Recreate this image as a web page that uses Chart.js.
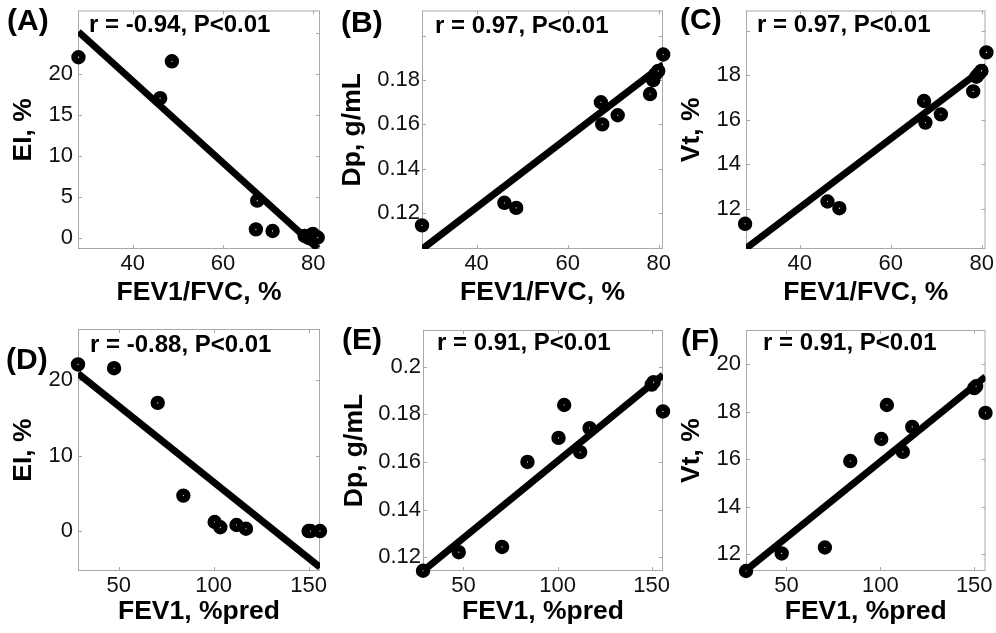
<!DOCTYPE html>
<html>
<head>
<meta charset="utf-8">
<script src="https://cdn.jsdelivr.net/npm/chart.js@4.4.0/dist/chart.umd.min.js"></script>
<style>
  html, body { margin: 0; padding: 0; background: #fff; }
  body { width: 996px; height: 633px; position: relative; overflow: hidden; }
  canvas { position: absolute; }
</style>
</head>
<body>
<canvas id="pA"></canvas>
<canvas id="pB"></canvas>
<canvas id="pC"></canvas>
<canvas id="pD"></canvas>
<canvas id="pE"></canvas>
<canvas id="pF"></canvas>
<script>
// top row: against FEV1/FVC
const fev1fvc = [28.0, 46.1, 48.7, 67.3, 67.6, 71.0, 78.1, 78.8, 79.3, 79.9, 81.0];
const eiTop = [22.1, 17.1, 21.6, 1.1, 4.6, 0.9, 0.3, 0.1, 0.0, 0.55, 0.1];
const dpTop = [0.1143, 0.1245, 0.1222, 0.1700, 0.1600, 0.1641, 0.1737, 0.1800, 0.1827, 0.1842, 0.1916];
const vtTop = [11.33, 12.33, 12.03, 16.84, 15.87, 16.24, 17.27, 17.93, 18.05, 18.19, 19.02];

// bottom row: against FEV1 %pred
const fev1pred = [28.5, 47.5, 70.5, 84.0, 100.5, 103.5, 112.0, 117.0, 150.0, 151.0, 156.0];
const eiBot = [22.1, 21.6, 17.0, 4.7, 1.2, 0.5, 0.8, 0.3, 0.0, 0.0, 0.0];
const dpBot = [0.1143, 0.1221, 0.1243, 0.1600, 0.1701, 0.1839, 0.1641, 0.1742, 0.1925, 0.1935, 0.1812];
const vtBot = [11.3, 12.04, 12.29, 15.93, 16.86, 18.29, 16.32, 17.37, 19.0, 19.08, 17.96];

// regression lines (end points)
const fitXTop = [28, 81];
const fitXBot = [28.5, 156];
const fitA = [25.2, -1.25];
const fitB = [0.1035, 0.187];
const fitC = [10.2, 18.4];
const fitD = [20.9, -4.8];
const fitE = [0.1142, 0.1965];
const fitF = [11.33, 19.48];

// ticks
const xTicksTop = [40, 60, 80];
const xTicksBot = [50, 100, 150];
const yTicksA = [0, 5, 10, 15, 20, 25];
const yLabelsA = ['0', '5', '10', '15', '20', ''];
const yTicksB = [0.12, 0.14, 0.16, 0.18, 0.2];
const yLabelsB = ['0.12', '0.14', '0.16', '0.18', ''];
const yTicksC = [12, 14, 16, 18, 20];
const yLabelsC = ['12', '14', '16', '18', ''];
const yTicksD = [0, 10, 20];
const yLabelsD = ['0', '10', '20'];
const yTicksE = [0.12, 0.14, 0.16, 0.18, 0.2];
const yLabelsE = ['0.12', '0.14', '0.16', '0.18', '0.2'];
const yTicksF = [12, 14, 16, 18, 20];
const yLabelsF = ['12', '14', '16', '18', '20'];

const FONT = '"Liberation Sans", Arial, Helvetica, sans-serif';

// matlab style grey box with inward ticks, plus the stat text and panel letter
const boxPlugin = {
  id: 'matlabBox',
  beforeDatasetsDraw(chart, args, opts) {
    const { ctx, chartArea: a, scales: { x, y } } = chart;
    ctx.save();
    ctx.strokeStyle = '#a8a8a8';
    ctx.lineWidth = 1;
    ctx.strokeRect(a.left + 0.5, a.top + 0.5, a.width - 1, a.height - 1);
    ctx.beginPath();
    x.ticks.forEach(t => {
      const p = Math.round(x.getPixelForValue(t.value)) + 0.5;
      ctx.moveTo(p, a.bottom); ctx.lineTo(p, a.bottom - 4);
      ctx.moveTo(p, a.top); ctx.lineTo(p, a.top + 4);
    });
    y.ticks.forEach(t => {
      const p = Math.round(y.getPixelForValue(t.value)) + 0.5;
      ctx.moveTo(a.left, p); ctx.lineTo(a.left + 4, p);
      ctx.moveTo(a.right, p); ctx.lineTo(a.right - 4, p);
    });
    ctx.stroke();
    ctx.restore();
  },
  afterDatasetsDraw(chart, args, opts) {
    const { ctx, chartArea: a } = chart;
    ctx.save();
    ctx.fillStyle = '#000';
    ctx.textBaseline = 'middle';
    ctx.textAlign = 'left';
    ctx.font = 'bold 24px ' + FONT;
    ctx.fillText(opts.stat, a.left + opts.statDx, a.top + opts.statDy);
    ctx.font = 'bold 30px ' + FONT;
    ctx.fillText(opts.label, opts.labelX, opts.labelY);
    ctx.restore();
  }
};

function panel(id, c) {
  const el = document.getElementById(id);
  el.width = c.w; el.height = c.h;
  el.style.left = c.left + 'px'; el.style.top = c.top + 'px';
  el.style.width = c.w + 'px'; el.style.height = c.h + 'px';

  new Chart(el, {
    type: 'scatter',
    data: {
      datasets: [
        {
          data: c.xs.map((v, i) => ({ x: v, y: c.ys[i] })),
          pointRadius: 3.9,
          pointHoverRadius: 3.9,
          pointBorderWidth: 6.6,
          pointBackgroundColor: '#fff',
          pointBorderColor: '#000',
          clip: false
        },
        {
          data: c.fitX.map((v, i) => ({ x: v, y: c.fitY[i] })),
          showLine: true,
          borderColor: '#000',
          borderWidth: 7,
          pointRadius: 0,
          pointHoverRadius: 0
        }
      ]
    },
    options: {
      responsive: false,
      animation: false,
      events: [],
      layout: { padding: { left: 0, top: c.padTop, right: c.padRight, bottom: 0 } },
      plugins: {
        legend: { display: false },
        tooltip: { enabled: false },
        matlabBox: { stat: c.stat, statDx: c.statDx, statDy: c.statDy, label: c.label, labelX: c.labelX, labelY: c.labelY }
      },
      scales: {
        x: {
          type: 'linear',
          min: c.xMin, max: c.xMax,
          grid: { display: false, drawTicks: false },
          border: { display: false },
          afterBuildTicks: s => { s.ticks = c.xTicks.map(v => ({ value: v })); },
          afterFit: s => { s.height = c.xH; s.paddingLeft = 0; s.paddingRight = 0; },
          ticks: {
            padding: 2, color: '#111', maxRotation: 0, autoSkip: false,
            font: { family: FONT, size: 22 },
            callback: (v, i) => String(c.xTicks[i])
          },
          title: {
            display: true, text: c.xTitle, color: '#000',
            font: { family: FONT, size: 26.5, weight: 'bold' },
            padding: { top: 0, bottom: c.xTitlePad }
          }
        },
        y: {
          type: 'linear',
          min: c.yMin, max: c.yMax,
          grid: { display: false, drawTicks: false },
          border: { display: false },
          afterBuildTicks: s => { s.ticks = c.yTicks.map(v => ({ value: v })); },
          afterFit: s => { s.width = c.yW; s.paddingTop = 0; s.paddingBottom = 0; },
          ticks: {
            padding: c.yTickPad, color: '#111', autoSkip: false,
            font: { family: FONT, size: 22 },
            callback: (v, i) => c.yLabels[i]
          },
          title: {
            display: true, text: c.yTitle, color: '#000',
            font: { family: FONT, size: 26.5, weight: 'bold' },
            padding: { top: c.yTitlePad, bottom: 0 }
          }
        }
      }
    },
    plugins: [boxPlugin]
  });
}

const top1 = { top: 0, h: 316, padTop: 7, xH: 67, xTitlePad: 7, xTicks: xTicksTop, xTitle: 'FEV1/FVC, %', fitX: fitXTop, xs: fev1fvc };
const bot1 = { top: 316, h: 317, xH: 62, xTitlePad: 5, xTicks: xTicksBot, xTitle: 'FEV1, %pred', fitX: fitXBot, xs: fev1pred, xMin: 28.5, xMax: 156 };

panel('pA', Object.assign({}, top1, {
  left: 0, w: 345, padRight: 25, yW: 78, xMin: 27.9, xMax: 81.5,
  ys: eiTop, fitY: fitA, yMin: -1.3, yMax: 27.8, yTicks: yTicksA, yLabels: yLabelsA,
  yTitle: 'EI, %', yTitlePad: 8, yTickPad: 5,
  stat: 'r = -0.94, P<0.01', statDx: 11, statDy: 15, label: '(A)', labelX: 7, labelY: 22
}));
panel('pB', Object.assign({}, top1, {
  left: 334, w: 345, padRight: 16, yW: 88, xMin: 28, xMax: 80.95,
  ys: dpTop, fitY: fitB, yMin: 0.1036, yMax: 0.2115, yTicks: yTicksB, yLabels: yLabelsB,
  yTitle: 'Dp, g/mL', yTitlePad: 3, yTickPad: 2,
  stat: 'r = 0.97, P<0.01', statDx: 13, statDy: 16, label: '(B)', labelX: 7, labelY: 24
}));
panel('pC', Object.assign({}, top1, {
  left: 664, w: 332, padTop: 8, padRight: 10, yW: 82, xMin: 28.2, xMax: 80.8,
  ys: vtTop, fitY: fitC, yMin: 10.2, yMax: 20.9, yTicks: yTicksC, yLabels: yLabelsC,
  yTitle: 'Vt, %', yTitlePad: 12, yTickPad: 5,
  stat: 'r = 0.97, P<0.01', statDx: 11, statDy: 15, label: '(C)', labelX: 16, labelY: 21
}));
panel('pD', Object.assign({}, bot1, {
  left: 0, w: 345, padTop: 13, padRight: 25, yW: 78,
  ys: eiBot, fitY: fitD, yMin: -5.3, yMax: 26.8, yTicks: yTicksD, yLabels: yLabelsD,
  yTitle: 'EI, %', yTitlePad: 8, yTickPad: 5,
  stat: 'r = -0.88, P<0.01', statDx: 12, statDy: 16, label: '(D)', labelX: 6, labelY: 45
}));
panel('pE', Object.assign({}, bot1, {
  left: 334, w: 345, padTop: 14, padRight: 16, yW: 89,
  ys: dpBot, fitY: fitE, yMin: 0.1142, yMax: 0.2154, yTicks: yTicksE, yLabels: yLabelsE,
  yTitle: 'Dp, g/mL', yTitlePad: 5, yTickPad: 2,
  stat: 'r = 0.91, P<0.01', statDx: 14, statDy: 13, label: '(E)', labelX: 8, labelY: 25
}));
panel('pF', Object.assign({}, bot1, {
  left: 664, w: 332, padTop: 14, padRight: 10, yW: 82,
  ys: vtBot, fitY: fitF, yMin: 11.3, yMax: 21.45, yTicks: yTicksF, yLabels: yLabelsF,
  yTitle: 'Vt, %', yTitlePad: 12, yTickPad: 5,
  stat: 'r = 0.91, P<0.01', statDx: 17, statDy: 13, label: '(F)', labelX: 17, labelY: 26
}));
</script>
</body>
</html>
